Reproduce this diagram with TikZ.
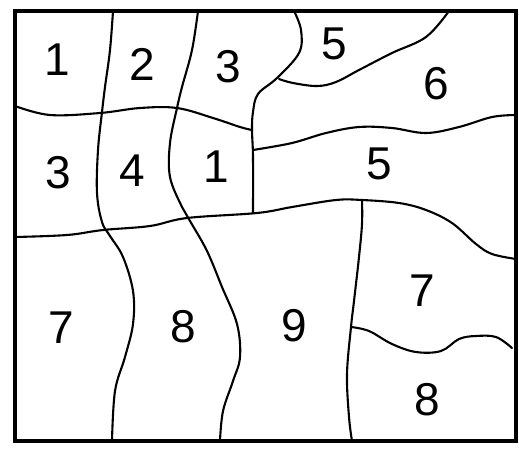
\documentclass[tikz,border=0pt]{standalone}
\usepackage{fontspec}
\setmainfont{Liberation Sans}
\begin{document}
\begin{tikzpicture}[x=1pt,y=-1pt,
  frame/.style={line width=3.2pt},
  border/.style={line width=2.1pt, line cap=round, line join=round},
  num/.style={inner sep=0pt, font=\fontsize{46}{46}\selectfont}]
\useasboundingbox (0,0) rectangle (519,448);
\fill[white] (0,0) rectangle (519,448);
% boundaries
\draw[border] plot[smooth, tension=0.6] coordinates {(113,11) (110,50) (105,87) (102,112) (98,150) (97,193) (102,222) (110,236) (123,257) (133,291) (133,324) (125,357) (115,391) (112,441)};
\draw[border] plot[smooth, tension=0.6] coordinates {(198,11) (192,50) (182,87) (177,108) (170,143) (170,177) (182,207) (190,221) (207,251) (222,287) (237,324) (240,357) (233,381) (223,411) (220,441)};
\draw[border] plot[smooth, tension=0.6] coordinates {(15,106) (50,115) (100,113) (140,108) (177,108) (213,118) (240,127) (252,130)};
\draw[border] plot[smooth, tension=0.6] coordinates {(294,11) (301,30) (299,53) (277,78) (258,94) (253,112) (252,130) (253,157) (253,213)};
\draw[border] plot[smooth, tension=0.6] coordinates {(449,11) (426,37) (392,53) (359,70) (336,82) (317,86) (293,83) (279,79)};
\draw[border] plot[smooth, tension=0.6] coordinates {(253,150) (292,143) (326,133) (359,127) (392,128) (426,133) (459,127) (492,117) (516,115)};
\draw[border] plot[smooth, tension=0.6] coordinates {(15,237) (67,235) (103,230) (150,226) (187,218) (257,213) (292,207) (336,200) (362,200) (399,203) (426,210) (452,223) (476,244) (492,254) (516,259)};
\draw[border] plot[smooth, tension=0.6] coordinates {(362,200) (362,224) (359,257) (354,301) (351,327) (347,374) (349,417) (352,441)};
\draw[border] plot[smooth, tension=0.6] coordinates {(351,327) (369,331) (392,344) (416,352) (441,351) (459,339) (476,336) (496,337) (512,348)};
% frame
\draw[frame] (15,11) rectangle (516,441);
% labels
\node[num] (n1a) at (57,60) {1};
\node[num] (n2) at (142,64) {2};
\node[num] (n3a) at (228,67) {3};
\node[num] (n5a) at (334,44) {5};
\node[num] (n6) at (436,84) {6};
\node[num] (n3b) at (58,173) {3};
\node[num] (n4) at (132,171) {4};
\node[num] (n1b) at (216,167) {1};
\node[num] (n5b) at (379,164) {5};
\node[num] (n7a) at (61,328) {7};
\node[num] (n8a) at (183,327) {8};
\node[num] (n9) at (294,326) {9};
\node[num] (n7b) at (422,291) {7};
\node[num] (n8b) at (427,400) {8};
\end{tikzpicture}
\end{document}
